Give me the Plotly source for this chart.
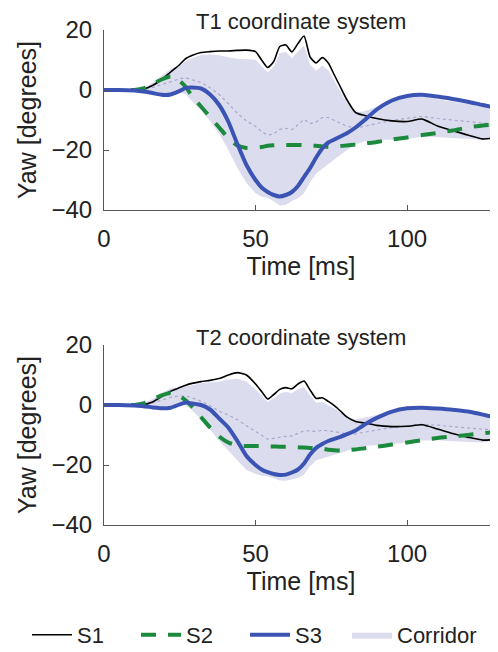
import numpy as np
import plotly.graph_objects as go

# ---------------- data ----------------
time_ms = [0, 5, 10, 13, 16, 19, 22, 25, 27, 29, 32, 35, 38, 41, 44, 47, 50, 52, 54, 56,
           58, 60, 62, 64, 66, 68, 70, 72, 74, 76, 78, 80, 83, 86, 90, 95, 100, 105,
           110, 115, 120, 125, 130]

t1_s1 = [0, 0, 0, 0.3, 1.5, 3.5, 6, 8.5, 10.5, 11.5, 12.5, 12.8, 13, 13, 13.2, 13.3, 12.8,
         10, 7.5, 9.5, 14.5, 15, 12.7, 15.5, 18, 11, 9, 10.8, 9, 5, 1, -3, -7.5, -8.5,
         -9.5, -10.3, -10.5, -9.7, -12, -13.5, -15, -16.3, -15.8]
t1_s2 = [0, 0, 0, 0.5, 2, 3.5, 4.5, 3, 1, -2, -5.5, -9, -12.5, -16, -18.5, -19.3, -19.2,
         -19, -18.6, -18.4, -18.3, -18.3, -18.3, -18.3, -18.4, -18.5, -18.6, -18.8, -19,
         -19, -18.7, -18.5, -18.2, -17.8, -17.3, -16.5, -15.8, -15, -14.3, -13.5, -12.5,
         -11.8, -11.5]
t1_s3 = [0, 0, -0.2, -0.5, -1, -1.6, -1.5, -0.3, 0.7, 0.8, 0.5, -1.5, -5, -10.5, -18, -25,
         -30, -32.5, -34, -35, -35.5, -35, -34, -32, -29, -26, -22.5, -19.5, -17.5, -16.5,
         -15.5, -14.5, -12.5, -10, -6.5, -3.5, -2, -1.6, -2.2, -3, -3.9, -5, -6]

t2_s1 = [0, 0, 0, 0.1, 1, 2.8, 4.6, 5.8, 6.6, 7.2, 7.8, 8.2, 8.8, 10, 10.8, 10, 7, 4.5, 2,
         3.5, 5.2, 5.8, 5.4, 7, 8, 5, 2.2, 2.4, 1.2, -0.2, -2, -3.9, -5.5, -6, -6.8, -7.2,
         -7.1, -6.6, -8, -9.5, -10.7, -11.7, -11.4]
t2_s2 = [0, 0, 0, 0.5, 1.8, 3.2, 4, 3, 1.5, -0.5, -4, -7.5, -10.5, -12.5, -13.5, -13.7,
         -13.7, -13.7, -13.8, -13.8, -13.9, -13.9, -14, -14.1, -14.2, -14.3, -14.4, -14.6,
         -14.9, -15.1, -15.2, -15.1, -14.8, -14.4, -13.9, -13.2, -12.5, -11.7, -11, -10.5,
         -10, -9.4, -8.9]
t2_s3 = [0, 0, -0.2, -0.4, -0.8, -1.1, -0.9, 0.2, 0.8, 0.5, 0, -1.5, -4.5, -7.5, -12, -17,
         -20, -21.5, -22.4, -23, -23.3, -23.2, -22.5, -21.5, -19.5, -16.5, -14.3, -13, -12,
         -11.3, -10.6, -9.8, -8.5, -6.5, -4.3, -2.2, -1.1, -0.9, -1.2, -1.6, -2.2, -3.2,
         -4.4]

panel_titles = ["T1 coordinate system", "T2 coordinate system"]
series_names = ["S1", "S2", "S3"]
x_ticks = [0, 50, 100]
y_ticks = [-40, -20, 0, 20]

# ---------------- styling ----------------
FONT = "Liberation Sans, Arial, sans-serif"
OFF = 8                      # default page body margin
W, H = 498 - OFF, 652 - OFF  # figure size so that it fills the window
colors = {"S1": "#000000", "S2": "#1b8a3c", "S3": "#3b54b3"}
widths = {"S1": 1.6, "S2": 4.0, "S3": 4.0}
dashes = {"S1": "solid", "S2": "15px,12px", "S3": "solid"}
corridor_color = "#dcdcef"
mean_color = "#a8a8cc"
axis_color = "#555555"
text_color = "#222222"


def px_x(x):  # page pixel -> paper fraction
    return (x - OFF) / W


def px_y(y):
    return 1 - (y - OFF) / H


fig = go.Figure()

panels = [(t1_s1, t1_s2, t1_s3), (t2_s1, t2_s2, t2_s3)]
# page pixel rows of y=20 and y=-40 per panel
panel_px = [(30, 210), (345, 525)]
AX_LEFT = 104

for i, (s1, s2, s3) in enumerate(panels):
    xa = "x" if i == 0 else "x2"
    ya = "y" if i == 0 else "y2"
    arr = np.array([s1, s2, s3], dtype=float)
    mean = arr.mean(axis=0)
    sd = arr.std(axis=0, ddof=1)
    upper = mean + sd
    lower = mean - sd
    fig.add_trace(go.Scatter(
        x=list(time_ms) + list(time_ms)[::-1],
        y=list(upper) + list(lower)[::-1],
        fill="toself", fillcolor=corridor_color, mode="lines",
        line=dict(width=0, color=corridor_color),
        name="Corridor", legend="legend2", showlegend=(i == 0),
        xaxis=xa, yaxis=ya, hoverinfo="skip"))
    fig.add_trace(go.Scatter(
        x=time_ms, y=mean, mode="lines",
        line=dict(color=mean_color, width=1.2, dash="dot"),
        showlegend=False, xaxis=xa, yaxis=ya, hoverinfo="skip"))
    for name, vals in zip(series_names, (s1, s2, s3)):
        fig.add_trace(go.Scatter(
            x=time_ms, y=vals, mode="lines", name=name,
            line=dict(color=colors[name], width=widths[name], dash=dashes[name],
                      shape="spline", smoothing=0.6),
            legend="legend",
            showlegend=(i == 0), xaxis=xa, yaxis=ya))

axis_common = dict(showgrid=False, zeroline=False, showline=True, linecolor=axis_color,
                   linewidth=1.2, ticks="inside", ticklen=5, tickcolor=axis_color,
                   tickfont=dict(family=FONT, size=24, color=text_color), mirror=False,
                   automargin=False)

for i, (ytop, ybot) in enumerate(panel_px):
    dom = [px_y(ybot), px_y(ytop)]
    sfx = "" if i == 0 else "2"
    fig.update_layout(**{
        "xaxis" + sfx: dict(axis_common, range=[0, 130], tickvals=x_ticks,
                            domain=[px_x(AX_LEFT), 1.0], anchor="y" + sfx,
                            ticklabelstandoff=7,
                            title=dict(text="Time [ms]", font=dict(family=FONT, size=25, color=text_color),
                                       standoff=5)),
        "yaxis" + sfx: dict(axis_common, range=[-40, 20], tickvals=y_ticks,
                            ticktext=[("\u2212" + str(-v)) if v < 0 else str(v) for v in y_ticks],
                            domain=dom, anchor="x" + sfx, ticklabelstandoff=6,
                            title=dict(text="Yaw [degrees]", font=dict(family=FONT, size=25, color=text_color),
                                       standoff=7)),
    })
    fig.add_annotation(text=panel_titles[i], xref="paper", yref="paper",
                       x=(px_x(AX_LEFT) + 1) / 2, y=px_y(ytop - 8), yanchor="middle",
                       xanchor="center", showarrow=False,
                       font=dict(family=FONT, size=22, color=text_color))

legend_font = dict(family=FONT, size=22, color=text_color)
fig.update_layout(
    width=W, height=H, margin=dict(l=0, r=0, t=0, b=0, autoexpand=False),
    paper_bgcolor="white", plot_bgcolor="white",
    showlegend=True,
    legend=dict(orientation="h", x=px_x(27), y=px_y(635), yanchor="middle", xanchor="left",
                font=legend_font, entrywidth=54, entrywidthmode="pixels",
                traceorder="normal", itemwidth=40, bgcolor="rgba(0,0,0,0)"),
    legend2=dict(orientation="h", x=px_x(347), y=px_y(635), yanchor="middle", xanchor="left",
                 font=legend_font, itemwidth=40, bgcolor="rgba(0,0,0,0)"),
)

fig.write_html("out.html")
